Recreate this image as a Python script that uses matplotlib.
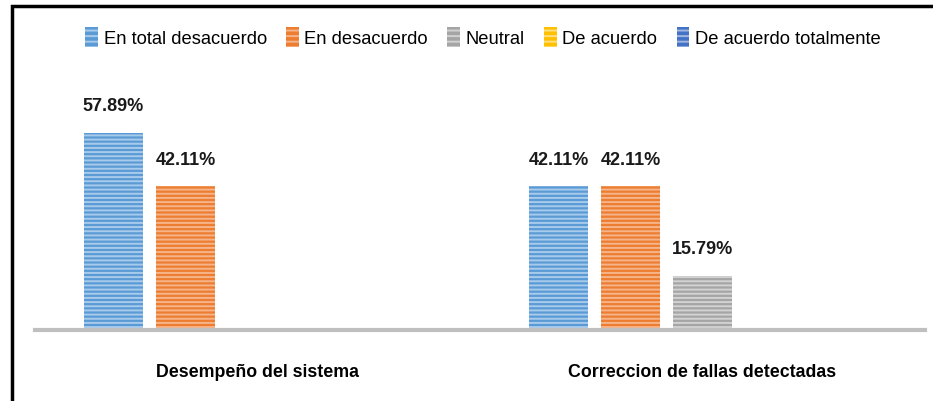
import matplotlib
matplotlib.use("Agg")
from matplotlib import pyplot as plt
from matplotlib.patches import Rectangle, Patch
import numpy as np

plt.rcParams['font.family'] = ['Liberation Sans', 'DejaVu Sans']
plt.rcParams['hatch.linewidth'] = 1.4

categorias = ["Desempeño del sistema", "Correccion de fallas detectadas"]
series = ["En total desacuerdo", "En desacuerdo", "Neutral", "De acuerdo", "De acuerdo totalmente"]
valores = [
    [57.89, 42.11],   # En total desacuerdo
    [42.11, 42.11],   # En desacuerdo
    [0, 15.79],       # Neutral
    [0, 0],           # De acuerdo
    [0, 0],           # De acuerdo totalmente
]
colores = ["#5B9BD5", "#ED7D31", "#A5A5A5", "#FFC000", "#4472C4"]
claros = ["#A9CBEB", "#F5B48A", "#D2D2D2", "#FFDF80", "#A0B8E2"]

fig = plt.figure(figsize=(9.33, 4.02), dpi=100)
ax = fig.add_axes([35/933, 71/402, 890/933, 251/402])

x = np.arange(len(categorias))
ancho = 59/445
paso = 72/445
for i, (nombre, vals) in enumerate(zip(series, valores)):
    pos = x + (i - 2) * paso
    ax.bar(pos, vals, ancho, color=colores[i], edgecolor=claros[i],
           linewidth=0, hatch='----', label=nombre)
    for p, v in zip(pos, vals):
        if v > 0:
            ax.text(p, v + 5.5, "{:.2f}%".format(v), ha='center', va='bottom',
                    fontsize=13, fontweight='bold', color='#1a1a1a')

ax.set_xlim(-0.5, 1.5)
ax.set_ylim(0, 73.6)
ax.set_yticks([])
ax.set_xticks(x)
ax.set_xticklabels(categorias, fontsize=12.8, fontweight='bold')
ax.tick_params(axis='x', length=0, pad=24)
for s in ['top', 'right', 'left']:
    ax.spines[s].set_visible(False)
ax.spines['bottom'].set_color('#BFBFBF')
ax.spines['bottom'].set_linewidth(3)

handles = [Patch(facecolor=colores[i], edgecolor=claros[i], linewidth=0, hatch='---')
           for i in range(len(series))]
fig.legend(handles, series, loc='center', bbox_to_anchor=(483/933, 1 - 38/402),
           ncol=5, frameon=False, fontsize=13.2, handlelength=0.7, handleheight=1.3,
           handletextpad=0.3, columnspacing=1.05)

# marco negro
fig.patches.append(Rectangle((11.5/933, -0.1), 1.2, 1.1 - 7.5/402, transform=fig.transFigure,
                             fill=False, edgecolor='black', linewidth=2.5))

fig.savefig("out.png", dpi=100)
